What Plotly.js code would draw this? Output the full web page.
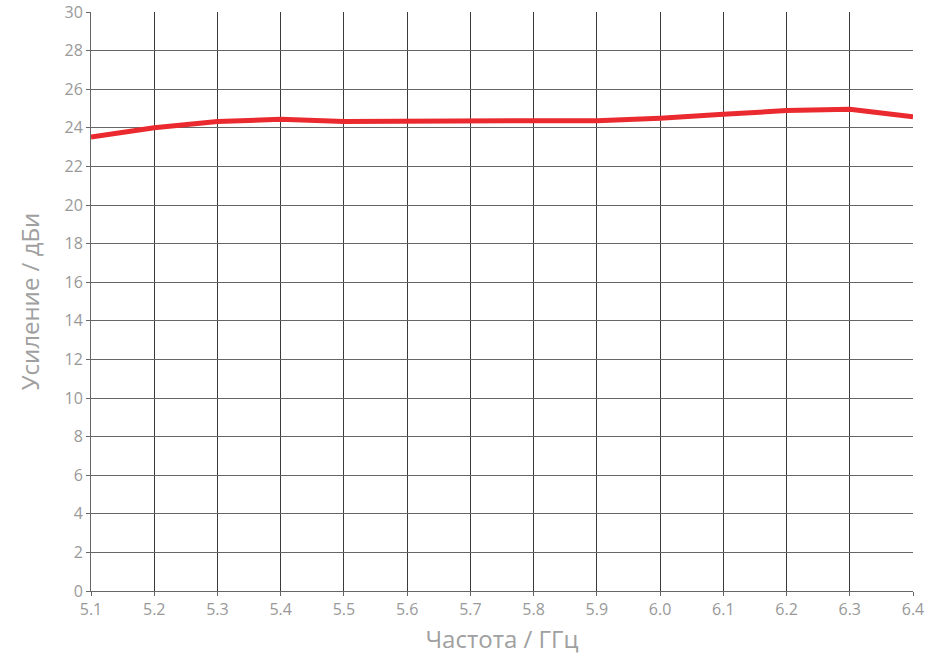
<!DOCTYPE html>
<html>
<head>
<meta charset="utf-8">
<script src="https://cdn.plot.ly/plotly-3.0.1.min.js"></script>
<style>html,body{margin:0;padding:0;background:#fff;}#chart{width:937px;height:664px;}</style>
</head>
<body>
<div id="chart"></div>
<script>
const freqGHz = [5.1, 5.2, 5.3, 5.4, 5.5, 5.6, 5.7, 5.8, 5.9, 6.0, 6.1, 6.2, 6.3, 6.4];
const gainDBi = [23.52, 24.0, 24.32, 24.44, 24.32, 24.35, 24.39, 24.37, 24.37, 24.5, 24.7, 24.89, 24.96, 24.57];
const xTickVals = [5.1, 5.2, 5.3, 5.4, 5.5, 5.6, 5.7, 5.8, 5.9, 6.0, 6.1, 6.2, 6.3, 6.4];
const xTickText = ["5.1","5.2","5.3","5.4","5.5","5.6","5.7","5.8","5.9","6.0","6.1","6.2","6.3","6.4"];
const xTitle = "Частота / ГГц";
const yTitle = "Усиление / дБи";

const trace = {
  x: freqGHz, y: gainDBi, type: 'scatter', mode: 'lines',
  line: {color: '#ea2a2e', width: 5}, hoverinfo: 'skip'
};
const layout = {
  width: 937, height: 664,
  margin: {l: 91, r: 24, t: 12, b: 73},
  paper_bgcolor: '#fff', plot_bgcolor: '#fff',
  showlegend: false,
  font: {family: '"Open Sans", sans-serif', color: '#9a9a9a'},
  xaxis: {
    range: [5.1, 6.4], tickmode: 'array', tickvals: xTickVals, ticktext: xTickText,
    showgrid: true, gridcolor: '#3a3a3a', gridwidth: 1,
    showline: true, linecolor: '#666', linewidth: 1, mirror: false,
    ticks: 'outside', ticklen: 4, tickcolor: '#666',
    zeroline: false, tickfont: {size: 16, color: '#999'},
    title: {text: xTitle, font: {size: 24, color: '#a0a0a0'}, standoff: 11}
  },
  yaxis: {
    range: [0, 30], tickmode: 'linear', tick0: 0, dtick: 2,
    showgrid: true, gridcolor: '#666', gridwidth: 1,
    showline: true, linecolor: '#666', linewidth: 1,
    ticks: 'outside', ticklen: 4, tickcolor: '#666',
    zeroline: false, tickfont: {size: 16, color: '#999'},
    title: {text: yTitle, font: {size: 24, color: '#a0a0a0'}, standoff: 18}
  }
};
Plotly.newPlot('chart', [trace], layout, {displayModeBar: false, staticPlot: true});
</script>
</body>
</html>
